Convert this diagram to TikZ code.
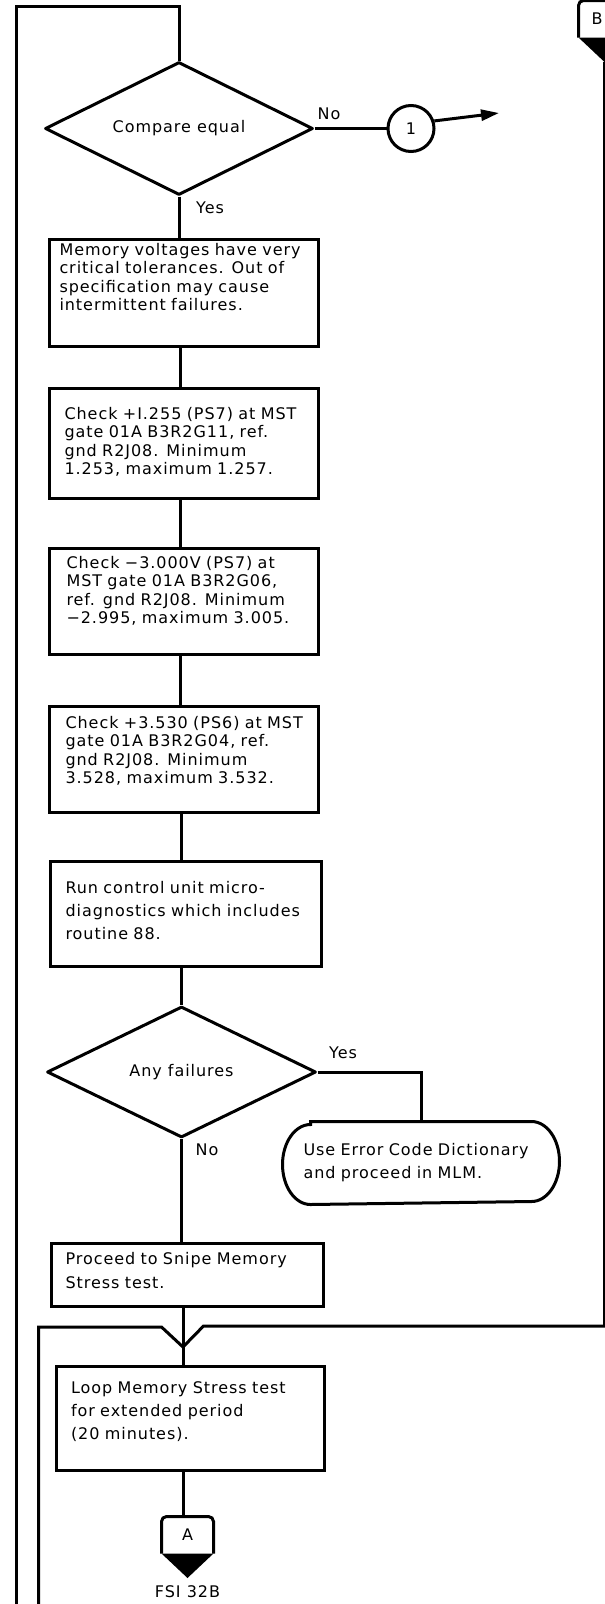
\documentclass[tikz,border=0pt]{standalone}
\usepackage{fontspec}
\setmainfont{DejaVu Sans}[LetterSpace=6]
\usetikzlibrary{shapes.geometric,arrows.meta}
\begin{document}
\begin{tikzpicture}[x=1pt,y=-1pt,line width=3pt,
  txt/.style={font=\fontsize{16}{18.5}\selectfont,align=left,text width=300pt,inner sep=0pt,anchor=base west},
  txtb/.style={txt,font=\fontsize{16}{23}\selectfont},
  lbl/.style={font=\fontsize{16}{18.5}\selectfont,inner sep=0pt},
  box/.style={draw,rectangle,inner sep=0pt,anchor=north west},
  dec/.style={draw,diamond,inner sep=0pt,aspect=2,lbl,line join=round},
  conn/.style={inner sep=0pt,minimum width=49pt,minimum height=34pt,lbl}]
\useasboundingbox (0,0) rectangle (605,1604);
\fill[white] (0,0) rectangle (605,1604);
\clip (0,0) rectangle (605,1604);

% columns of the main line
\coordinate (xa) at (180,0);
\coordinate (xb) at (181.5,0);
\coordinate (xc) at (183,0);

% nodes
\node[dec,minimum width=268pt,minimum height=133pt] (d1) at (179,128.5) {Compare equal};
\node[lbl] (no1) at (329,114) {No};
\node[lbl] (yes1) at (210,208) {Yes};
\node[draw,circle,minimum size=46pt,lbl] (c1) at (411,128.5) {1};
\coordinate (arrend) at (499,113);

\node[box,minimum width=269pt,minimum height=107pt] (b1) at (48,238) {};
\node[txt] (t1) at (58,255) {Memory voltages have very\\critical tolerances. Out of\\specification may cause\\intermittent failures.};

\node[box,minimum width=269pt,minimum height=110pt] (b2) at (48,387) {};
\node[txt] (t2) at (63,419) {Check +I.255 (PS7) at MST\\gate 01A B3R2G11, ref.\\gnd R2J08. Minimum\\1.253, maximum 1.257.};

\node[box,minimum width=269pt,minimum height=106pt] (b3) at (48,547) {};
\node[txt] (t3) at (65,568) {Check −3.000V (PS7) at\\MST gate 01A B3R2G06,\\ref. gnd R2J08. Minimum\\−2.995, maximum 3.005.};

\node[box,minimum width=269pt,minimum height=106pt] (b4) at (48,705) {};
\node[txt] (t4) at (64,728) {Check +3.530 (PS6) at MST\\gate 01A B3R2G04, ref.\\gnd R2J08. Minimum\\3.528, maximum 3.532.};

\node[box,minimum width=271pt,minimum height=105pt] (b5) at (49,860) {};
\node[txtb] (t5) at (64,893) {Run control unit micro-\\diagnostics which includes\\routine 88.};

\node[dec,minimum width=269pt,minimum height=131pt] (d2) at (181.5,1072) {Any failures};
\node[lbl] (yes2) at (343,1053) {Yes};
\node[lbl] (no2) at (207,1150) {No};

\node[inner sep=0pt,minimum width=218pt,minimum height=80pt] (term) at (421,1163) {};
\node[txtb] (tt) at (302,1155) {Use Error Code Dictionary\\and proceed in MLM.};

\node[box,minimum width=272pt,minimum height=63pt] (b6) at (50,1242) {};
\node[txtb,font=\fontsize{16}{24}\selectfont] (t6) at (64,1264) {Proceed to Snipe Memory\\Stress test.};

\coordinate (m) at (183,1347);
\coordinate (ml) at (161.5,1327);
\coordinate (mr) at (203.5,1326);

\node[box,minimum width=267.5pt,minimum height=104pt] (b7) at (55,1365) {};
\node[txtb] (t7) at (69.5,1393) {Loop Memory Stress test\\for extended period\\(20 minutes).};

\node[conn] (A) at (187.5,1535) {A};
\coordinate (Atip) at (187.5,1578);
\node[lbl] (fsi) at (187.5,1592) {FSI 32B};

\node[conn] (B) at (604.5,19) {};
\node[lbl] (Blbl) at (597,19) {B};
\coordinate (Btip) at (604.5,62);

\coordinate (outtop) at (16,6.5);
\coordinate (outbot) at (16,1610);
\coordinate (inbot) at (38.5,1610);

% off-page connectors
\draw[rounded corners=5pt] (A.south west) -- (A.north west) -- (A.north east) -- (A.south east);
\fill (A.south west) -- (A.south east) -- (Atip) -- cycle;
\draw[rounded corners=5pt] (B.south west) -- (B.north west) -- (B.north east) -- (B.south east);
\fill (B.south west) -- (B.south east) -- (Btip) -- cycle;

% terminator outline
\draw (term.north west) -- (term.north east)
  arc[start angle=90,end angle=-90,x radius=28pt,y radius=40pt]
  -- (term.south west)
  arc[start angle=270,end angle=90,x radius=28pt,y radius=40pt] -- cycle;

% connectors
\draw (outbot) -- (outtop) -| (d1.north);
\draw (d1.east) -- (c1.west);
\draw[-{Triangle[length=18pt,width=11pt]}] (c1.18) -- (arrend);
\draw (d1.south) -- (d1.south |- b1.north);
\draw (xa |- b1.south) -- (xa |- b2.north);
\draw (xa |- b2.south) -- (xa |- b3.north);
\draw (xa |- b3.south) -- (xa |- b4.north);
\draw (xb |- b4.south) -- (xb |- b5.north);
\draw (xb |- b5.south) -- (d2.north);
\draw (d2.east) -| (term.north);
\draw (d2.south) -- (d2.south |- b6.north);
\draw (xc |- b6.south) -- (xc |- b7.north);
\draw[line join=miter] (inbot) |- (ml) -- (m) -- (mr) -| (Btip);
\draw (xc |- b7.south) -- (xc |- A.north);
\end{tikzpicture}
\end{document}
